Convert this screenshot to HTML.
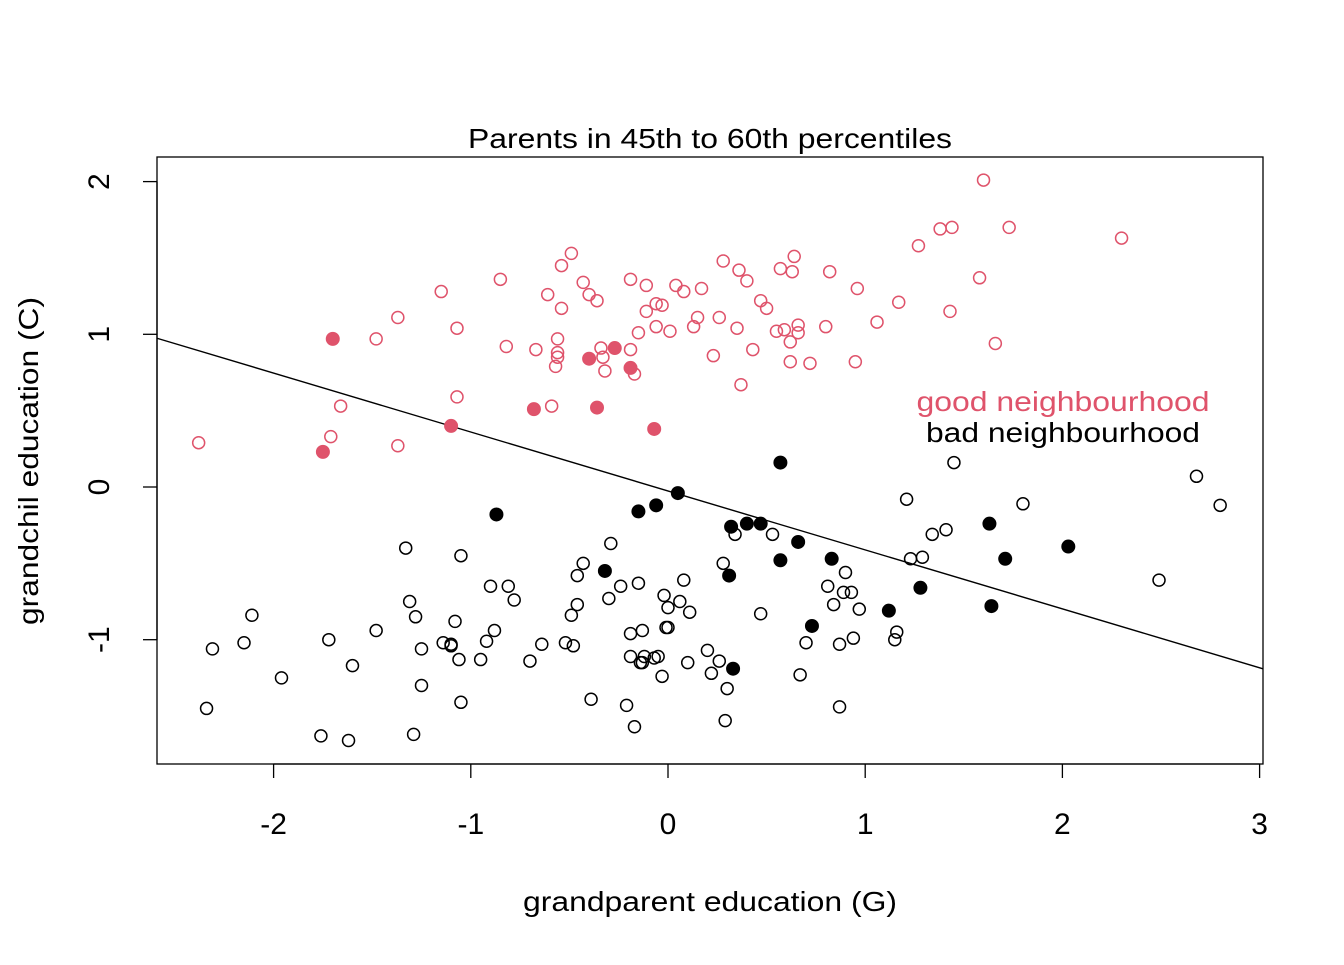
<!DOCTYPE html>
<html><head><meta charset="utf-8"><style>
html,body{margin:0;padding:0;background:#fff;}
svg text{font-family:"Liberation Sans",Arial,sans-serif;}
</style></head><body>
<svg id="chart" width="1344" height="960" viewBox="0 0 1344 960" xmlns="http://www.w3.org/2000/svg">
<rect width="1344" height="960" fill="#fff"/>
<text x="710" y="148" font-size="28" text-anchor="middle" textLength="484" lengthAdjust="spacingAndGlyphs">Parents in 45th to 60th percentiles</text>
<rect x="157" y="157" width="1106" height="607" fill="none" stroke="#000" stroke-width="1.3"/>
<text x="710" y="911" font-size="28" text-anchor="middle" textLength="374" lengthAdjust="spacingAndGlyphs">grandparent education (G)</text>
<text transform="translate(38,461) rotate(-90)" font-size="28" text-anchor="middle" textLength="328" lengthAdjust="spacingAndGlyphs">grandchil education (C)</text>
<text x="1063" y="411" font-size="28" text-anchor="middle" textLength="293" lengthAdjust="spacingAndGlyphs" fill="#DF536B">good neighbourhood</text>
<text x="1063" y="442" font-size="28" text-anchor="middle" textLength="274" lengthAdjust="spacingAndGlyphs" fill="#000">bad neighbourhood</text>
<g id="axes"></g>
<g id="marks"></g>
</svg>
<script>
const xTicks = [-2,-1,0,1,2,3];
const yTicks = [-1,0,1,2];
const xTickLabels = ["-2","-1","0","1","2","3"];
const yTickLabels = ["-1","0","1","2"];
const goodOpenX = [-2.38,-1.66,-1.71,-1.37,-1.48,-1.37,-1.15,-1.07,-1.07,-0.85,-0.82,-0.67,-0.61,-0.59,-0.56,-0.56,-0.57,-0.56,-0.54,-0.54,-0.49,-0.43,-0.40,-0.36,-0.34,-0.33,-0.32,-0.19,-0.19,-0.17,-0.15,-0.11,-0.11,-0.06,-0.06,-0.03,0.01,0.04,0.08,0.13,0.15,0.17,0.23,0.26,0.28,0.35,0.36,0.37,0.40,0.43,0.47,0.50,0.55,0.59,0.62,0.62,0.63,0.64,0.66,0.66,0.57,0.72,0.82,0.80,0.95,0.96,1.06,1.17,1.27,1.38,1.44,1.43,1.58,1.60,1.66,1.73,2.30];
const goodOpenY = [0.29,0.53,0.33,0.27,0.97,1.11,1.28,1.04,0.59,1.36,0.92,0.90,1.26,0.53,0.97,0.88,0.79,0.85,1.45,1.17,1.53,1.34,1.26,1.22,0.91,0.85,0.76,1.36,0.90,0.74,1.01,1.15,1.32,1.05,1.20,1.19,1.02,1.32,1.28,1.05,1.11,1.30,0.86,1.11,1.48,1.04,1.42,0.67,1.35,0.90,1.22,1.17,1.02,1.03,0.82,0.95,1.41,1.51,1.01,1.06,1.43,0.81,1.41,1.05,0.82,1.30,1.08,1.21,1.58,1.69,1.70,1.15,1.37,2.01,0.94,1.70,1.63];
const goodFilledX = [-1.70,-1.75,-1.10,-0.68,-0.40,-0.36,-0.27,-0.19,-0.07];
const goodFilledY = [0.97,0.23,0.40,0.51,0.84,0.52,0.91,0.78,0.38];
const badFilledX = [-0.87,-0.32,-0.15,-0.06,0.05,0.32,0.40,0.47,0.31,0.33,0.57,0.57,0.66,0.73,0.83,1.12,1.28,1.63,1.64,1.71,2.03];
const badFilledY = [-0.18,-0.55,-0.16,-0.12,-0.04,-0.26,-0.24,-0.24,-0.58,-1.19,0.16,-0.48,-0.36,-0.91,-0.47,-0.81,-0.66,-0.24,-0.78,-0.47,-0.39];
const badOpenX = [-2.34,-2.31,-2.15,-2.11,-1.96,-1.76,-1.72,-1.62,-1.60,-1.48,-1.33,-1.31,-1.29,-1.28,-1.25,-1.25,-1.14,-1.10,-1.10,-1.08,-1.06,-1.05,-1.05,-0.95,-0.92,-0.90,-0.88,-0.81,-0.78,-0.70,-0.64,-0.52,-0.49,-0.48,-0.46,-0.46,-0.43,-0.39,-0.30,-0.29,-0.24,-0.21,-0.17,-0.19,-0.19,-0.15,-0.14,-0.13,-0.12,-0.13,-0.07,-0.05,-0.03,-0.02,-0.01,0.00,0.00,0.06,0.08,0.11,0.10,0.20,0.22,0.26,0.28,0.30,0.29,0.34,0.47,0.53,0.67,0.70,0.81,0.84,0.87,0.89,0.87,0.90,0.93,0.94,0.97,1.15,1.16,1.21,1.23,1.29,1.34,1.41,1.45,1.80,2.49,2.68,2.80];
const badOpenY = [-1.45,-1.06,-1.02,-0.84,-1.25,-1.63,-1.00,-1.66,-1.17,-0.94,-0.40,-0.75,-1.62,-0.85,-1.30,-1.06,-1.02,-1.04,-1.03,-0.88,-1.13,-1.41,-0.45,-1.13,-1.01,-0.65,-0.94,-0.65,-0.74,-1.14,-1.03,-1.02,-0.84,-1.04,-0.58,-0.77,-0.50,-1.39,-0.73,-0.37,-0.65,-1.43,-1.57,-0.96,-1.11,-0.63,-1.15,-0.94,-1.11,-1.15,-1.12,-1.11,-1.24,-0.71,-0.92,-0.92,-0.79,-0.75,-0.61,-0.82,-1.15,-1.07,-1.22,-1.14,-0.50,-1.32,-1.53,-0.31,-0.83,-0.31,-1.23,-1.02,-0.65,-0.77,-1.44,-0.69,-1.03,-0.56,-0.69,-0.99,-0.80,-1.00,-0.95,-0.08,-0.47,-0.46,-0.31,-0.28,0.16,-0.11,-0.61,0.07,-0.12];
const lineIntercept = -0.026;
const lineSlope = -0.386;

const NS = "http://www.w3.org/2000/svg";
const X0 = 157, X1 = 1263, Y0 = 157, Y1 = 764;
const sx = v => 668 + v * 197.2;
const sy = v => 487 - v * 152.7;
const dminX = (X0 - 668) / 197.2, dmaxX = (X1 - 668) / 197.2;
const axes = document.getElementById('axes');
const marks = document.getElementById('marks');
function mk(tag, attrs, parent) {
  const e = document.createElementNS(NS, tag);
  for (const k in attrs) e.setAttribute(k, attrs[k]);
  parent.appendChild(e);
  return e;
}
mk('line', {x1: sx(xTicks[0]), x2: sx(xTicks[xTicks.length-1]), y1: Y1, y2: Y1, stroke: '#000', 'stroke-width': 1.3}, axes);
xTicks.forEach((t, i) => {
  const l = mk('line', {x1: sx(t), x2: sx(t), y1: Y1, y2: Y1 + 14, stroke: '#000', 'stroke-width': 1.3}, axes);
  
  
  const tx = mk('text', {x: sx(t), y: 834, 'font-size': 30, 'text-anchor': 'middle'}, axes);
  tx.textContent = xTickLabels[i];
  
  
});
mk('line', {x1: X0, x2: X0, y1: sy(yTicks[0]), y2: sy(yTicks[yTicks.length-1]), stroke: '#000', 'stroke-width': 1.3}, axes);
yTicks.forEach((t, i) => {
  const l = mk('line', {x1: X0 - 14, x2: X0, y1: sy(t), y2: sy(t), stroke: '#000', 'stroke-width': 1.3}, axes);
  
  
  const tx = mk('text', {transform: `translate(109,${sy(t)}) rotate(-90)`, 'font-size': 30, 'text-anchor': 'middle'}, axes);
  tx.textContent = yTickLabels[i];
  
  
});
const rl = mk('line', {x1: X0, y1: sy(lineIntercept + lineSlope * dminX), x2: X1, y2: sy(lineIntercept + lineSlope * dmaxX), stroke: '#000', 'stroke-width': 1.4}, marks);


function pts(xs, ys, color, filled, name) {
  xs.forEach((x, i) => {
    const c = mk('circle', {cx: sx(x), cy: sy(ys[i]), r: filled ? 6.5 : 6, fill: filled ? color : 'none', stroke: color, 'stroke-width': filled ? 1 : 1.5}, marks);
    
    
  });
}
pts(badOpenX, badOpenY, '#000', false, 'bad-neighbourhood-point');
pts(goodOpenX, goodOpenY, '#DF536B', false, 'good-neighbourhood-point');
pts(goodFilledX, goodFilledY, '#DF536B', true, 'good-neighbourhood-selected-point');
pts(badFilledX, badFilledY, '#000', true, 'bad-neighbourhood-selected-point');
</script>
</body></html>
